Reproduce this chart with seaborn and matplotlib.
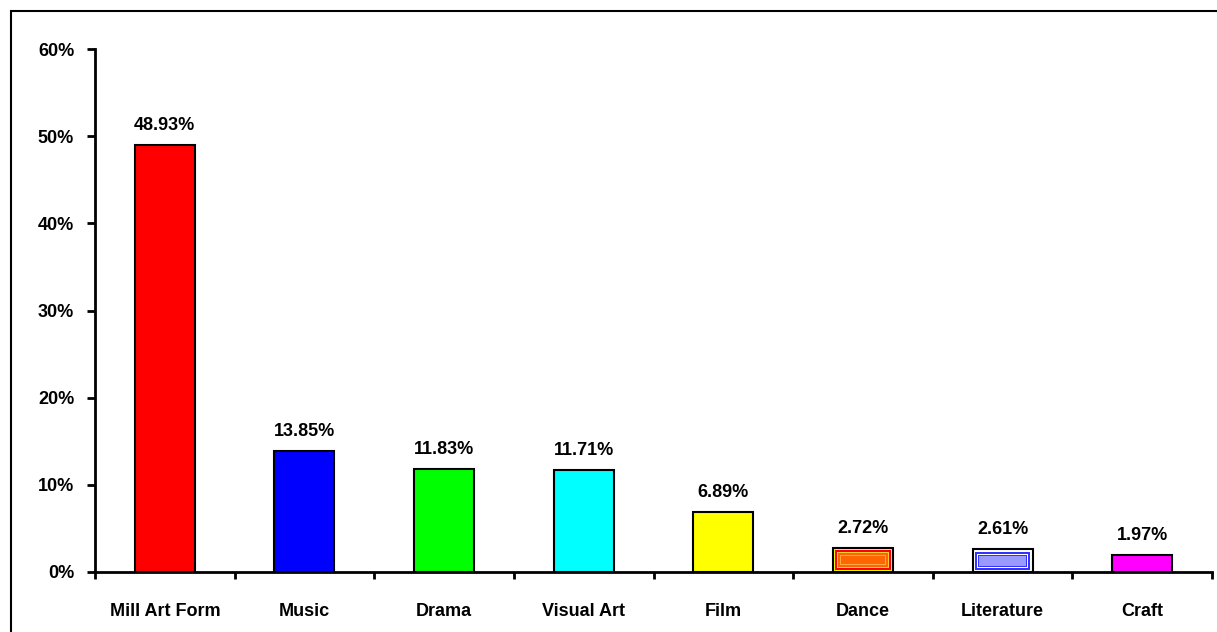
import matplotlib
matplotlib.use("Agg")
import matplotlib.pyplot as plt
import seaborn as sns
import pandas as pd
from matplotlib.patches import Rectangle
from matplotlib.ticker import FixedLocator, FuncFormatter

categories = ["Mill Art Form", "Music", "Drama", "Visual Art", "Film", "Dance", "Literature", "Craft"]
values = [48.93, 13.85, 11.83, 11.71, 6.89, 2.72, 2.61, 1.97]
labels = ["48.93%", "13.85%", "11.83%", "11.71%", "6.89%", "2.72%", "2.61%", "1.97%"]
colors = ["#FF0000", "#0000FF", "#00FF00", "#00FFFF", "#FFFF00", "#FFFF00", "#FFFFFF", "#FF00FF"]
yticks = [0, 10, 20, 30, 40, 50, 60]

sns.set_theme(style="white")
plt.rcParams["font.family"] = ["Liberation Sans", "DejaVu Sans"]
plt.rcParams["text.color"] = "black"
plt.rcParams["xtick.color"] = "black"
plt.rcParams["ytick.color"] = "black"

df = pd.DataFrame({"cat": categories, "val": values})

fig = plt.figure(figsize=(12.17, 6.32), dpi=100)
ax = fig.add_axes([95 / 1217, 60 / 632, 1117 / 1217, 523 / 632])

sns.barplot(data=df, x="cat", y="val", hue="cat", palette=colors, legend=False,
            width=0.43, edgecolor="black", linewidth=1.5, saturation=1, ax=ax)

ax.set_xlim(-0.5, len(categories) - 0.5)
ax.set_ylim(0, 60)

patches = list(ax.patches)
# pixel -> data scale for inner pattern layers
pxx = (len(categories)) / 1117.0
pxy = 60 / 523.0

def nest(p, layers):
    x, y, w, h = p.get_x(), p.get_y(), p.get_width(), p.get_height()
    for k, col in layers:
        dx, dy = k * pxx, k * pxy
        ax.add_patch(Rectangle((x + dx, y + dy), w - 2 * dx, h - 2 * dy,
                               facecolor=col, edgecolor="none", zorder=3))

nest(patches[5], [(2, "#FF0000"), (4, "#FFCC33"), (5, "#FF6600"), (7, "#FFAA44"), (8, "#FF6600")])
nest(patches[6], [(2.5, "#3333FF"), (4.5, "#FFFFFF"), (5.5, "#3333FF"), (6.5, "#9999FF")])

ax.yaxis.set_major_locator(FixedLocator(yticks))
ax.yaxis.set_major_formatter(FuncFormatter(lambda v, _: f"{int(v)}%"))
ax.set_xticks(range(len(categories)))
ax.set_xticklabels(categories)
ax.set_xticks([i - 0.5 for i in range(len(categories) + 1)], minor=True)

ax.tick_params(axis="x", which="major", length=0, pad=22, labelsize=13)
ax.tick_params(axis="x", which="minor", length=5, width=2, direction="out", color="black", bottom=True)
ax.tick_params(axis="y", which="major", length=6, width=2, direction="out", color="black", left=True,
               labelsize=13, pad=9)
for t in ax.get_xticklabels() + ax.get_yticklabels():
    t.set_fontweight("bold")
    t.set_color("black")

for s in ["top", "right"]:
    ax.spines[s].set_visible(False)
for s in ["left", "bottom"]:
    ax.spines[s].set_color("black")
    ax.spines[s].set_linewidth(2)

ax.set_xlabel("")
ax.set_ylabel("")
ax.grid(False)

for p, lab in zip(patches[:len(categories)], labels):
    ax.annotate(lab, (p.get_x() + p.get_width() / 2, p.get_height()),
                xytext=(0, 8), textcoords="offset points", ha="center", va="bottom",
                fontsize=13, fontweight="bold", color="black")

# outer frame
fig.add_artist(Rectangle((11 / 1217, -0.05), 1.2, (632 - 11) / 632 + 0.05, transform=fig.transFigure,
                         fill=False, edgecolor="black", linewidth=1.5))

fig.savefig("out.png", dpi=100)
